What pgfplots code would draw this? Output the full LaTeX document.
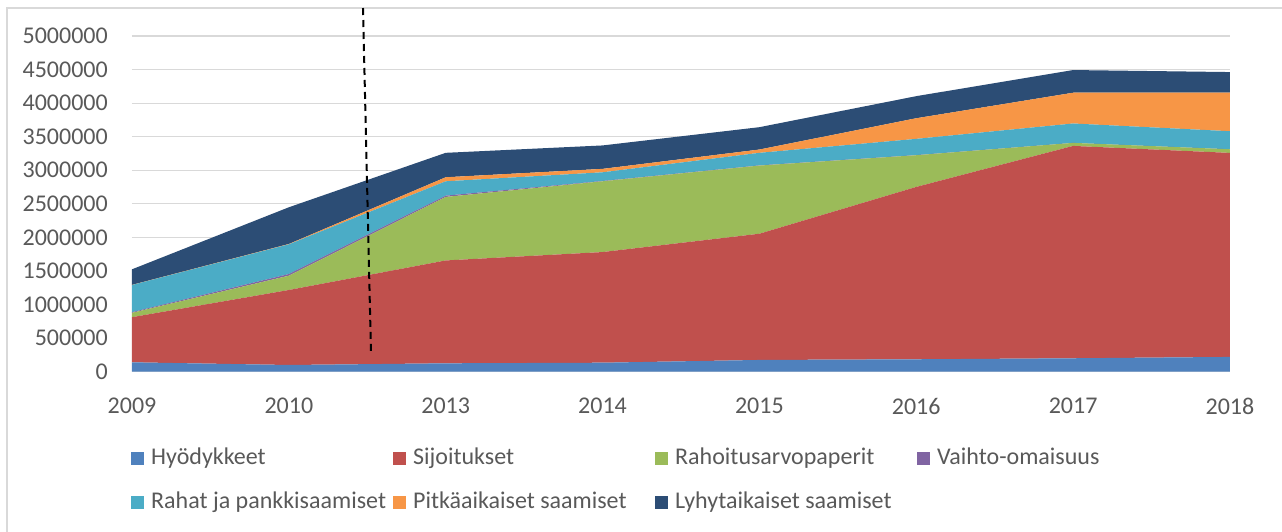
\documentclass[border=0pt]{standalone}
\usepackage{fontspec}
\setmainfont{Carlito}
\usepackage{pgfplots}
\usepackage{pgfplotstable}
\pgfplotsset{compat=1.18}
\definecolor{cH}{HTML}{4F81BD}
\definecolor{cS}{HTML}{C0504D}
\definecolor{cR}{HTML}{9BBB59}
\definecolor{cV}{HTML}{8064A2}
\definecolor{cRh}{HTML}{4BACC6}
\definecolor{cP}{HTML}{F79646}
\definecolor{cL}{HTML}{2C4D75}
\definecolor{gridgray}{HTML}{D9D9D9}
\definecolor{labelgray}{HTML}{595959}
\pgfplotstableread{
x Hy Si Ra Va Rh Pi Ly
0 140000 672000 65000 10000 404000 2000 232000
1 100000 1117000 213000 25000 442000 5000 547000
2 125000 1532000 946000 19000 214000 60000 364000
3 134000 1648000 1054000 5000 129000 51000 349000
4 175000 1880000 1015000 3000 187000 49000 333000
5 185000 2567000 472000 2000 242000 307000 329000
6 200000 3163000 45000 0 289000 458000 338000
7 220000 3039000 54000 0 269000 573000 308000
}\data
\pgfplotstableread{
x y
1.4727 5417000
1.5237 278500
}\dashdata
\begin{document}
\begin{tikzpicture}[x=1pt,y=1pt]
\useasboundingbox (-132,-159.3) rectangle (1150,371.7);
\draw[draw=gridgray, line width=1.2pt] (-125,-200) -- (-125,363.7) -- (1200,363.7);
\begin{axis}[
  at={(0pt,0pt)}, anchor=south west, scale only axis,
  width=1098pt, height=335.7pt,
  xmin=0, xmax=7, ymin=0, ymax=5000000,
  clip=false,
  axis line style={draw=none}, major tick length=0pt,
  ymajorgrids, grid style={draw=gridgray, line width=1.2pt},
  xtick={0,1,2,3,4,5,6,7},
  xticklabels={2009,2010,2013,2014,2015,2016,2017,2018},
  ytick={0,500000,1000000,1500000,2000000,2500000,3000000,3500000,4000000,4500000,5000000},
  scaled y ticks=false,
  /pgf/number format/fixed, /pgf/number format/1000 sep={},
  /pgf/number format/assume math mode=true,
  tick label style={font=\fontsize{24}{28}\selectfont, text=labelgray},
  yticklabel style={anchor=east, inner sep=0pt, xshift=-24pt},
  xticklabel style={anchor=north, inner sep=0pt, yshift=-26pt},
  stack plots=y,
  legend columns=4,
  legend image code/.code={\fill[#1] (0pt,-6.5pt) rectangle (13pt,6.5pt); \path (20pt,0pt);},
  legend style={at={(axis description cs:0,0)}, anchor=north west,
    xshift=-1pt, yshift=-76pt, draw=none, fill=none, inner sep=0pt,
    column sep=0pt, row sep=21.5pt,
    font=\fontsize{24}{28}\selectfont, text=labelgray,
    nodes={inner sep=0pt, text height=17pt, text depth=5pt}},
  legend cell align=left,
]
\addplot[fill=cH, draw=none] table[x=x, y=Hy] {\data} \closedcycle;
\addlegendentry{\makebox[242pt][l]{Hyödykkeet}}
\addplot[fill=cS, draw=none] table[x=x, y=Si] {\data} \closedcycle;
\addlegendentry{\makebox[242pt][l]{Sijoitukset}}
\addplot[fill=cR, draw=none] table[x=x, y=Ra] {\data} \closedcycle;
\addlegendentry{\makebox[242pt][l]{Rahoitusarvopaperit}}
\addplot[fill=cV, draw=none] table[x=x, y=Va] {\data} \closedcycle;
\addlegendentry{Vaihto-omaisuus}
\addplot[fill=cRh, draw=none] table[x=x, y=Rh] {\data} \closedcycle;
\addlegendentry{\makebox[242pt][l]{Rahat ja pankkisaamiset}}
\addplot[fill=cP, draw=none] table[x=x, y=Pi] {\data} \closedcycle;
\addlegendentry{\makebox[242pt][l]{Pitkäaikaiset saamiset}}
\addplot[fill=cL, draw=none] table[x=x, y=Ly] {\data} \closedcycle;
\addlegendentry{Lyhytaikaiset saamiset}
\end{axis}
\begin{axis}[
  at={(0pt,0pt)}, anchor=south west, scale only axis,
  width=1098pt, height=335.7pt,
  xmin=0, xmax=7, ymin=0, ymax=5000000,
  clip=false, hide axis,
]
\addplot[black, line width=2pt, dash pattern=on 7pt off 5pt] table[x=x, y=y] {\dashdata};
\end{axis}
\end{tikzpicture}
\end{document}
